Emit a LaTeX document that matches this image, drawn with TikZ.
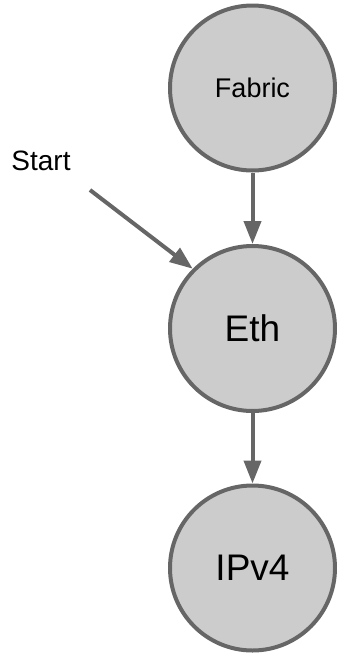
\documentclass[tikz,border=0pt]{standalone}
\usepackage{fontspec}
\setmainfont{Liberation Sans}
\usetikzlibrary{arrows.meta}
\definecolor{edgegray}{HTML}{666666}
\definecolor{fillgray}{HTML}{CCCCCC}
\begin{document}
\begin{tikzpicture}[x=1pt,y=-1pt,
  state/.style={circle,draw=edgegray,fill=fillgray,line width=4pt,minimum size=165pt,inner sep=0pt,text=black},
  conn/.style={draw=edgegray,line width=4pt,-{Triangle[length=23pt,width=17pt]}}]
\useasboundingbox (0,0) rectangle (337,654);
\node[state,font=\fontsize{27}{30}\selectfont] (fabric) at (252.5,88) {Fabric};
\node[state,font=\fontsize{37}{40}\selectfont] (eth) at (252.5,328.5) {Eth};
\node[state,font=\fontsize{37}{40}\selectfont] (ipv4) at (252.5,568) {IPv4};
\node[font=\fontsize{28}{30}\selectfont,inner sep=0pt] (start) at (41,161) {Start};
\coordinate (s0) at (90,190);
\draw[conn] (fabric.south) -- (eth.north);
\draw[conn] (eth.south) -- (ipv4.north);
\draw[conn] (s0) -- (eth.135);
\end{tikzpicture}
\end{document}
